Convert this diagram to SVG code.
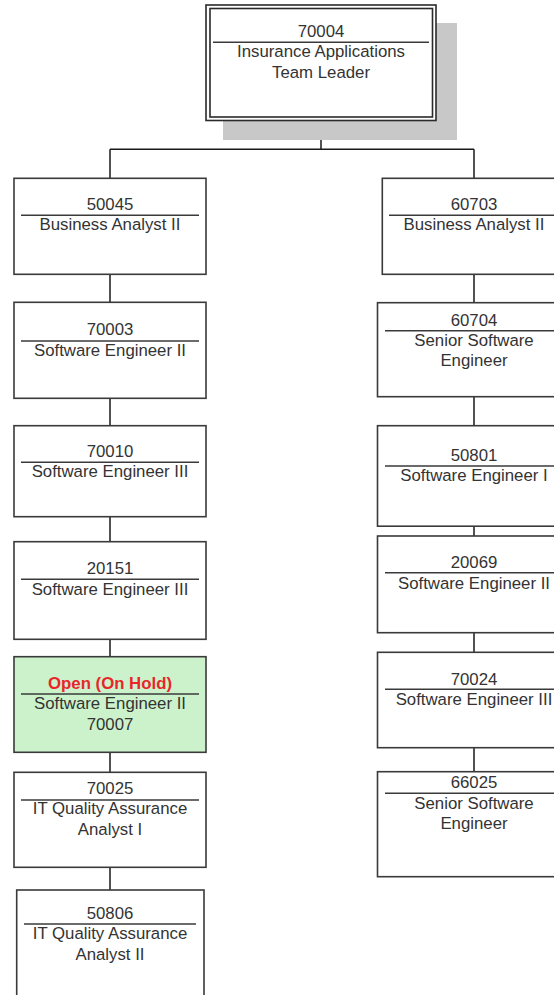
<svg xmlns="http://www.w3.org/2000/svg" width="554" height="995" viewBox="0 0 554 995">
<style>
.box{fill:#ffffff;stroke:#3a3a3a;stroke-width:1.6}
.open{fill:#ccf2cc;stroke:#3a3a3a;stroke-width:1.6}
.sep{stroke:#3a3a3a;stroke-width:1.6}
.conn{fill:none;stroke:#1a1a1a;stroke-width:1.5}
text{font-family:"Liberation Sans",Arial,sans-serif;font-size:16.8px;fill:#333333;text-anchor:middle}
.red{fill:#e8262a;font-weight:bold}
</style>
<rect width="554" height="995" fill="#ffffff"/>
<g id="connectors">
<path class="conn" d="M321,120 V149.3 M110,149.3 H474 M110,149.3 V178 M474,149.3 V178"/>
<path class="conn" d="M110,274 V302 M110,398 V426 M110,517 V541 M110,639 V657 M110,752 V772 M110,867 V890"/>
<path class="conn" d="M474,274 V303 M474,397 V426 M474,526 V536 M474,633 V652 M474,748 V772"/>
</g>
<g id="n70004">
<rect x="223" y="23" width="234" height="117" fill="#c8c8c8"/>
<rect x="206" y="5" width="230" height="115.5" fill="#ffffff" stroke="#2a2a2a" stroke-width="1.6"/>
<rect x="210" y="8.5" width="222.5" height="108.5" fill="none" stroke="#2a2a2a" stroke-width="1.6"/>
<line class="sep" x1="213" y1="42.3" x2="429" y2="42.3"/>
<text x="321" y="37">70004</text>
<text x="321" y="57">Insurance Applications</text>
<text x="321" y="78">Team Leader</text>
</g>
<g id="n50045">
<rect class="box" x="14" y="178.3" width="192" height="96"/>
<line class="sep" x1="21" y1="215.3" x2="199" y2="215.3"/>
<text x="110" y="210">50045</text>
<text x="110" y="230">Business Analyst II</text>
</g>
<g id="n70003">
<rect class="box" x="14" y="302.3" width="192" height="96"/>
<line class="sep" x1="21" y1="341" x2="199" y2="341"/>
<text x="110" y="335">70003</text>
<text x="110" y="356">Software Engineer II</text>
</g>
<g id="n70010">
<rect class="box" x="14" y="425.7" width="192" height="91"/>
<line class="sep" x1="21" y1="462.3" x2="199" y2="462.3"/>
<text x="110" y="456.5">70010</text>
<text x="110" y="477">Software Engineer III</text>
</g>
<g id="n20151">
<rect class="box" x="14" y="541.7" width="192" height="97.6"/>
<line class="sep" x1="21" y1="579.3" x2="199" y2="579.3"/>
<text x="110" y="574">20151</text>
<text x="110" y="594.5">Software Engineer III</text>
</g>
<g id="nOpen">
<rect class="open" x="14" y="656.7" width="192" height="95.6"/>
<line class="sep" x1="21" y1="694" x2="199" y2="694"/>
<text class="red" x="110" y="688.5">Open (On Hold)</text>
<text x="110" y="709">Software Engineer II</text>
<text x="110" y="729.5">70007</text>
</g>
<g id="n70025">
<rect class="box" x="14" y="772.3" width="192" height="95"/>
<line class="sep" x1="21" y1="800" x2="199" y2="800"/>
<text x="110" y="793.5">70025</text>
<text x="110" y="814">IT Quality Assurance</text>
<text x="110" y="834.5">Analyst I</text>
</g>
<g id="n50806">
<rect class="box" x="16.7" y="890" width="187.3" height="120"/>
<line class="sep" x1="24" y1="924" x2="196" y2="924"/>
<text x="110" y="918.5">50806</text>
<text x="110" y="939">IT Quality Assurance</text>
<text x="110" y="959.5">Analyst II</text>
</g>
<g id="n60703">
<rect class="box" x="382.3" y="178.3" width="184" height="96"/>
<line class="sep" x1="389" y1="215.3" x2="560" y2="215.3"/>
<text x="474" y="210">60703</text>
<text x="474" y="230">Business Analyst II</text>
</g>
<g id="n60704">
<rect class="box" x="377.5" y="302.7" width="192" height="94"/>
<line class="sep" x1="385" y1="330.7" x2="563" y2="330.7"/>
<text x="474" y="325.5">60704</text>
<text x="474" y="346">Senior Software</text>
<text x="474" y="366">Engineer</text>
</g>
<g id="n50801">
<rect class="box" x="377.5" y="425.7" width="192" height="100.5"/>
<line class="sep" x1="385" y1="466" x2="563" y2="466"/>
<text x="474" y="461">50801</text>
<text x="474" y="481">Software Engineer I</text>
</g>
<g id="n20069">
<rect class="box" x="377.5" y="536" width="192" height="96.7"/>
<line class="sep" x1="385" y1="572.7" x2="563" y2="572.7"/>
<text x="474" y="568">20069</text>
<text x="474" y="588.5">Software Engineer II</text>
</g>
<g id="n70024">
<rect class="box" x="377.5" y="652.3" width="192" height="95.4"/>
<line class="sep" x1="385" y1="689.3" x2="563" y2="689.3"/>
<text x="474" y="684.5">70024</text>
<text x="474" y="704.5">Software Engineer III</text>
</g>
<g id="n66025">
<rect class="box" x="377.5" y="771.7" width="192" height="105"/>
<line class="sep" x1="385" y1="793.3" x2="563" y2="793.3"/>
<text x="474" y="788">66025</text>
<text x="474" y="808.5">Senior Software</text>
<text x="474" y="829">Engineer</text>
</g>
</svg>
